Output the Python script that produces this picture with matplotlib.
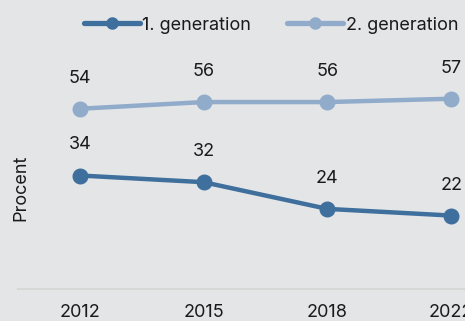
import numpy as np
import matplotlib
matplotlib.use("Agg")
import matplotlib.pyplot as plt

plt.rcParams['font.family'] = ['Inter', 'DejaVu Sans']

years = ["2012", "2015", "2018", "2022"]
gen1 = [34, 32, 24, 22]
gen2 = [54, 56, 56, 57]
names = ["1. generation", "2. generation"]
colors = ["#3f6f9d", "#91abca"]

bg = "#e4e5e7"
fig = plt.figure(figsize=(4.65, 3.21), dpi=100, facecolor=bg)
# axes runs past the right edge so the last year sits near the border
ax = fig.add_axes([18/465, 32/321, 495/465, 229/321], facecolor=bg)

x = np.arange(len(years))
for vals, name, c in zip([gen1, gen2], names, colors):
    ax.plot(x, vals, color=c, lw=3.2, marker="o", ms=10.5, label=name,
            solid_capstyle="round", zorder=3)
    for xi, v in zip(x, vals):
        ax.annotate(str(v), (xi, v), xytext=(0, 22), textcoords="offset points",
                    ha="center", va="center", fontsize=13, color="#1a1a1a")

ax.set_xlim(-0.5, 3.5)
ax.set_ylim(0, 68.6)
ax.set_xticks(x)
ax.set_xticklabels(years, fontsize=13, color="#1a1a1a")
ax.tick_params(axis="x", length=0, pad=10.5)
ax.set_yticks([])
for s in ["top", "right", "left"]:
    ax.spines[s].set_visible(False)
ax.spines["bottom"].set_color("#d5d8d5")
ax.spines["bottom"].set_linewidth(1.5)

fig.text(21/465, 1 - 188/321, "Procent", rotation=90, ha="center", va="center",
         fontsize=13, color="#1a1a1a")

leg = fig.legend(loc="center", bbox_to_anchor=(271/465, 1 - 25/321), ncol=2,
                 frameon=False, fontsize=13, handlelength=3.1, handletextpad=0.15,
                 columnspacing=2.0, labelcolor="#1a1a1a")
for h in leg.legend_handles:
    h.set_markersize(8)
    h.set_linewidth(3.8)

fig.savefig("out.png", dpi=100, facecolor=bg)
